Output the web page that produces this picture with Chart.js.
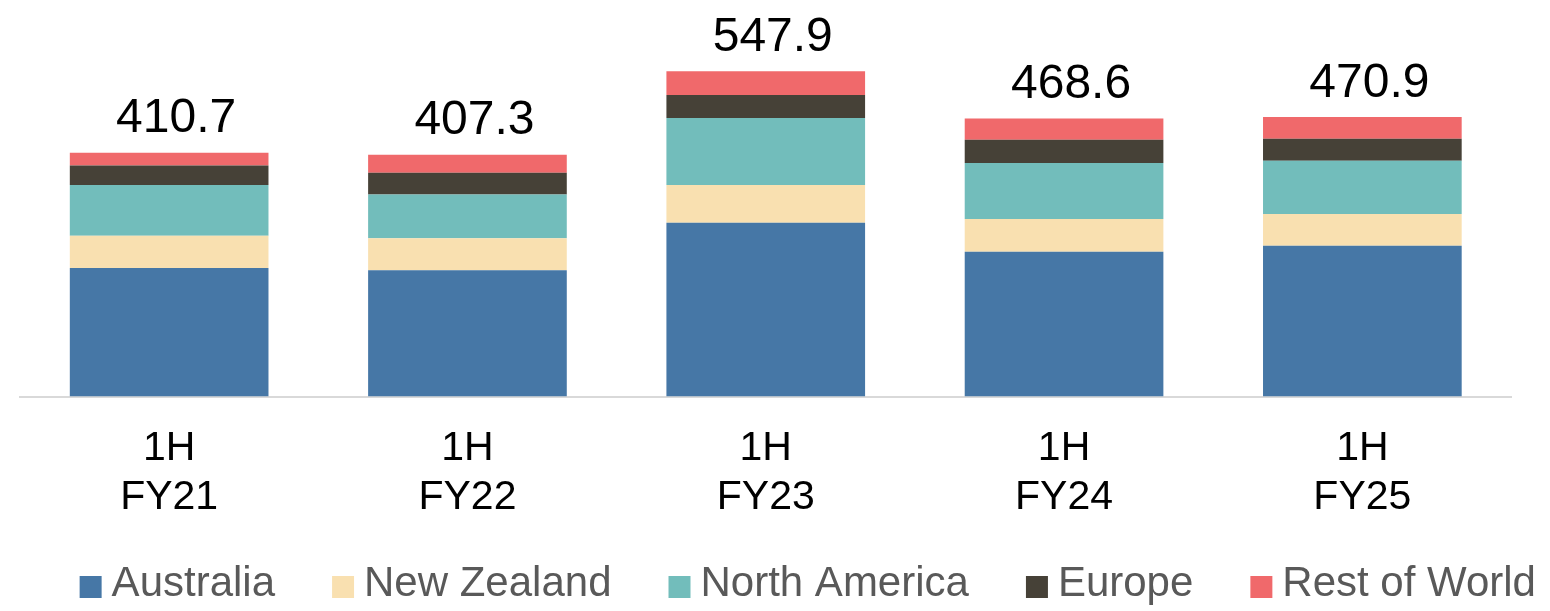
<!DOCTYPE html>
<html><head><meta charset="utf-8">
<script src="https://cdn.jsdelivr.net/npm/chart.js@4/dist/chart.umd.min.js"></script>
<style>html,body{margin:0;padding:0;background:#fff}#wrap{width:1550px;height:611px;position:relative}</style>
</head><body><div id="wrap"><canvas id="c"></canvas></div>
<script>
const categories = [['1H','FY21'],['1H','FY22'],['1H','FY23'],['1H','FY24'],['1H','FY25']];
const seriesNames = ['Australia','New Zealand','North America','Europe','Rest of World'];
const australia    = [216.4, 213.0, 293.0, 244.0, 254.2];
const newZealand   = [54.4, 53.9, 63.4, 55.0, 53.4];
const northAmerica = [85.4, 73.5, 112.8, 94.3, 89.7];
const europe       = [33.0, 36.6, 38.7, 39.2, 37.0];
const restOfWorld  = [21.5, 30.3, 40.0, 36.1, 36.6];
const totals       = [410.7, 407.3, 547.9, 468.6, 470.9];
const colors = ['#4677A6', '#F9E0B0', '#72BDBB', '#464137', '#F0696B'];

const FONT = '"Liberation Sans", Arial, sans-serif';
const SW = 68;
function swatch(color) {
  const c = document.createElement('canvas');
  c.width = SW + 24; c.height = 30;
  const g = c.getContext('2d');
  g.fillStyle = color;
  const right = c.width / 2 + SW / 2 + 11;
  g.fillRect(right - 22, 7, 22, 22);
  return c;
}
const swatches = colors.map(swatch);

const seriesData = [australia, newZealand, northAmerica, europe, restOfWorld];
const datasets = seriesNames.map((name, i) => ({
  label: name,
  data: seriesData[i],
  backgroundColor: colors[i],
  borderWidth: 0,
  categoryPercentage: 0.666,
  barPercentage: 1.0
}));

const totalsPlugin = {
  id: 'totals',
  afterDatasetsDraw(chart) {
    const ctx = chart.ctx, xs = chart.scales.x, ys = chart.scales.y;
    ctx.save();
    ctx.font = '48px ' + FONT;
    ctx.fillStyle = '#000';
    ctx.textAlign = 'center';
    ctx.textBaseline = 'alphabetic';
    totals.forEach((t, i) => {
      let sum = 0;
      chart.data.datasets.forEach(d => { sum += d.data[i]; });
      ctx.fillText(t.toFixed(1), xs.getPixelForValue(i) + 7, ys.getPixelForValue(sum) - 20.5);
    });
    ctx.restore();
  }
};

const hiddenAxis = (w, pos) => ({
  type: 'linear', position: pos, display: true,
  ticks: { display: false }, grid: { display: false }, border: { display: false },
  afterFit(s) { s.width = w; }
});

const yAxis = hiddenAxis(11.4, 'left');
yAxis.stacked = true; yAxis.min = 0; yAxis.max = 668;

new Chart(document.getElementById('c'), {
  type: 'bar',
  data: { labels: categories, datasets },
  options: {
    responsive: true,
    maintainAspectRatio: false,
    animation: false,
    layout: { padding: { left: 8.6, right: 0, top: 0, bottom: -4 } },
    scales: {
      x: {
        stacked: true,
        grid: { display: false, drawTicks: false },
        border: { display: true, color: '#D9D9D9', width: 2 },
        ticks: { color: '#000', padding: 27, maxRotation: 0, autoSkip: false,
                 font: { family: FONT, size: 41, lineHeight: 1.2 } }
      },
      y: yAxis,
      yr: hiddenAxis(38.5, 'right')
    },
    plugins: {
      tooltip: { enabled: false },
      legend: {
        position: 'bottom',
        align: 'center',
        title: { display: true, text: '', font: { size: 10, lineHeight: 1 }, padding: { top: 4, bottom: 0 } },
        labels: {
          usePointStyle: true,
          pointStyleWidth: SW,
          boxHeight: 22,
          padding: 0,
          color: '#595959',
          font: { family: FONT, size: 42 },
          generateLabels(chart) {
            const items = Chart.defaults.plugins.legend.labels.generateLabels(chart);
            return items.map((it, i) => Object.assign(it, { pointStyle: swatches[i], fontColor: '#595959' }));
          }
        }
      }
    }
  },
  plugins: [totalsPlugin]
});
</script>
</body></html>
